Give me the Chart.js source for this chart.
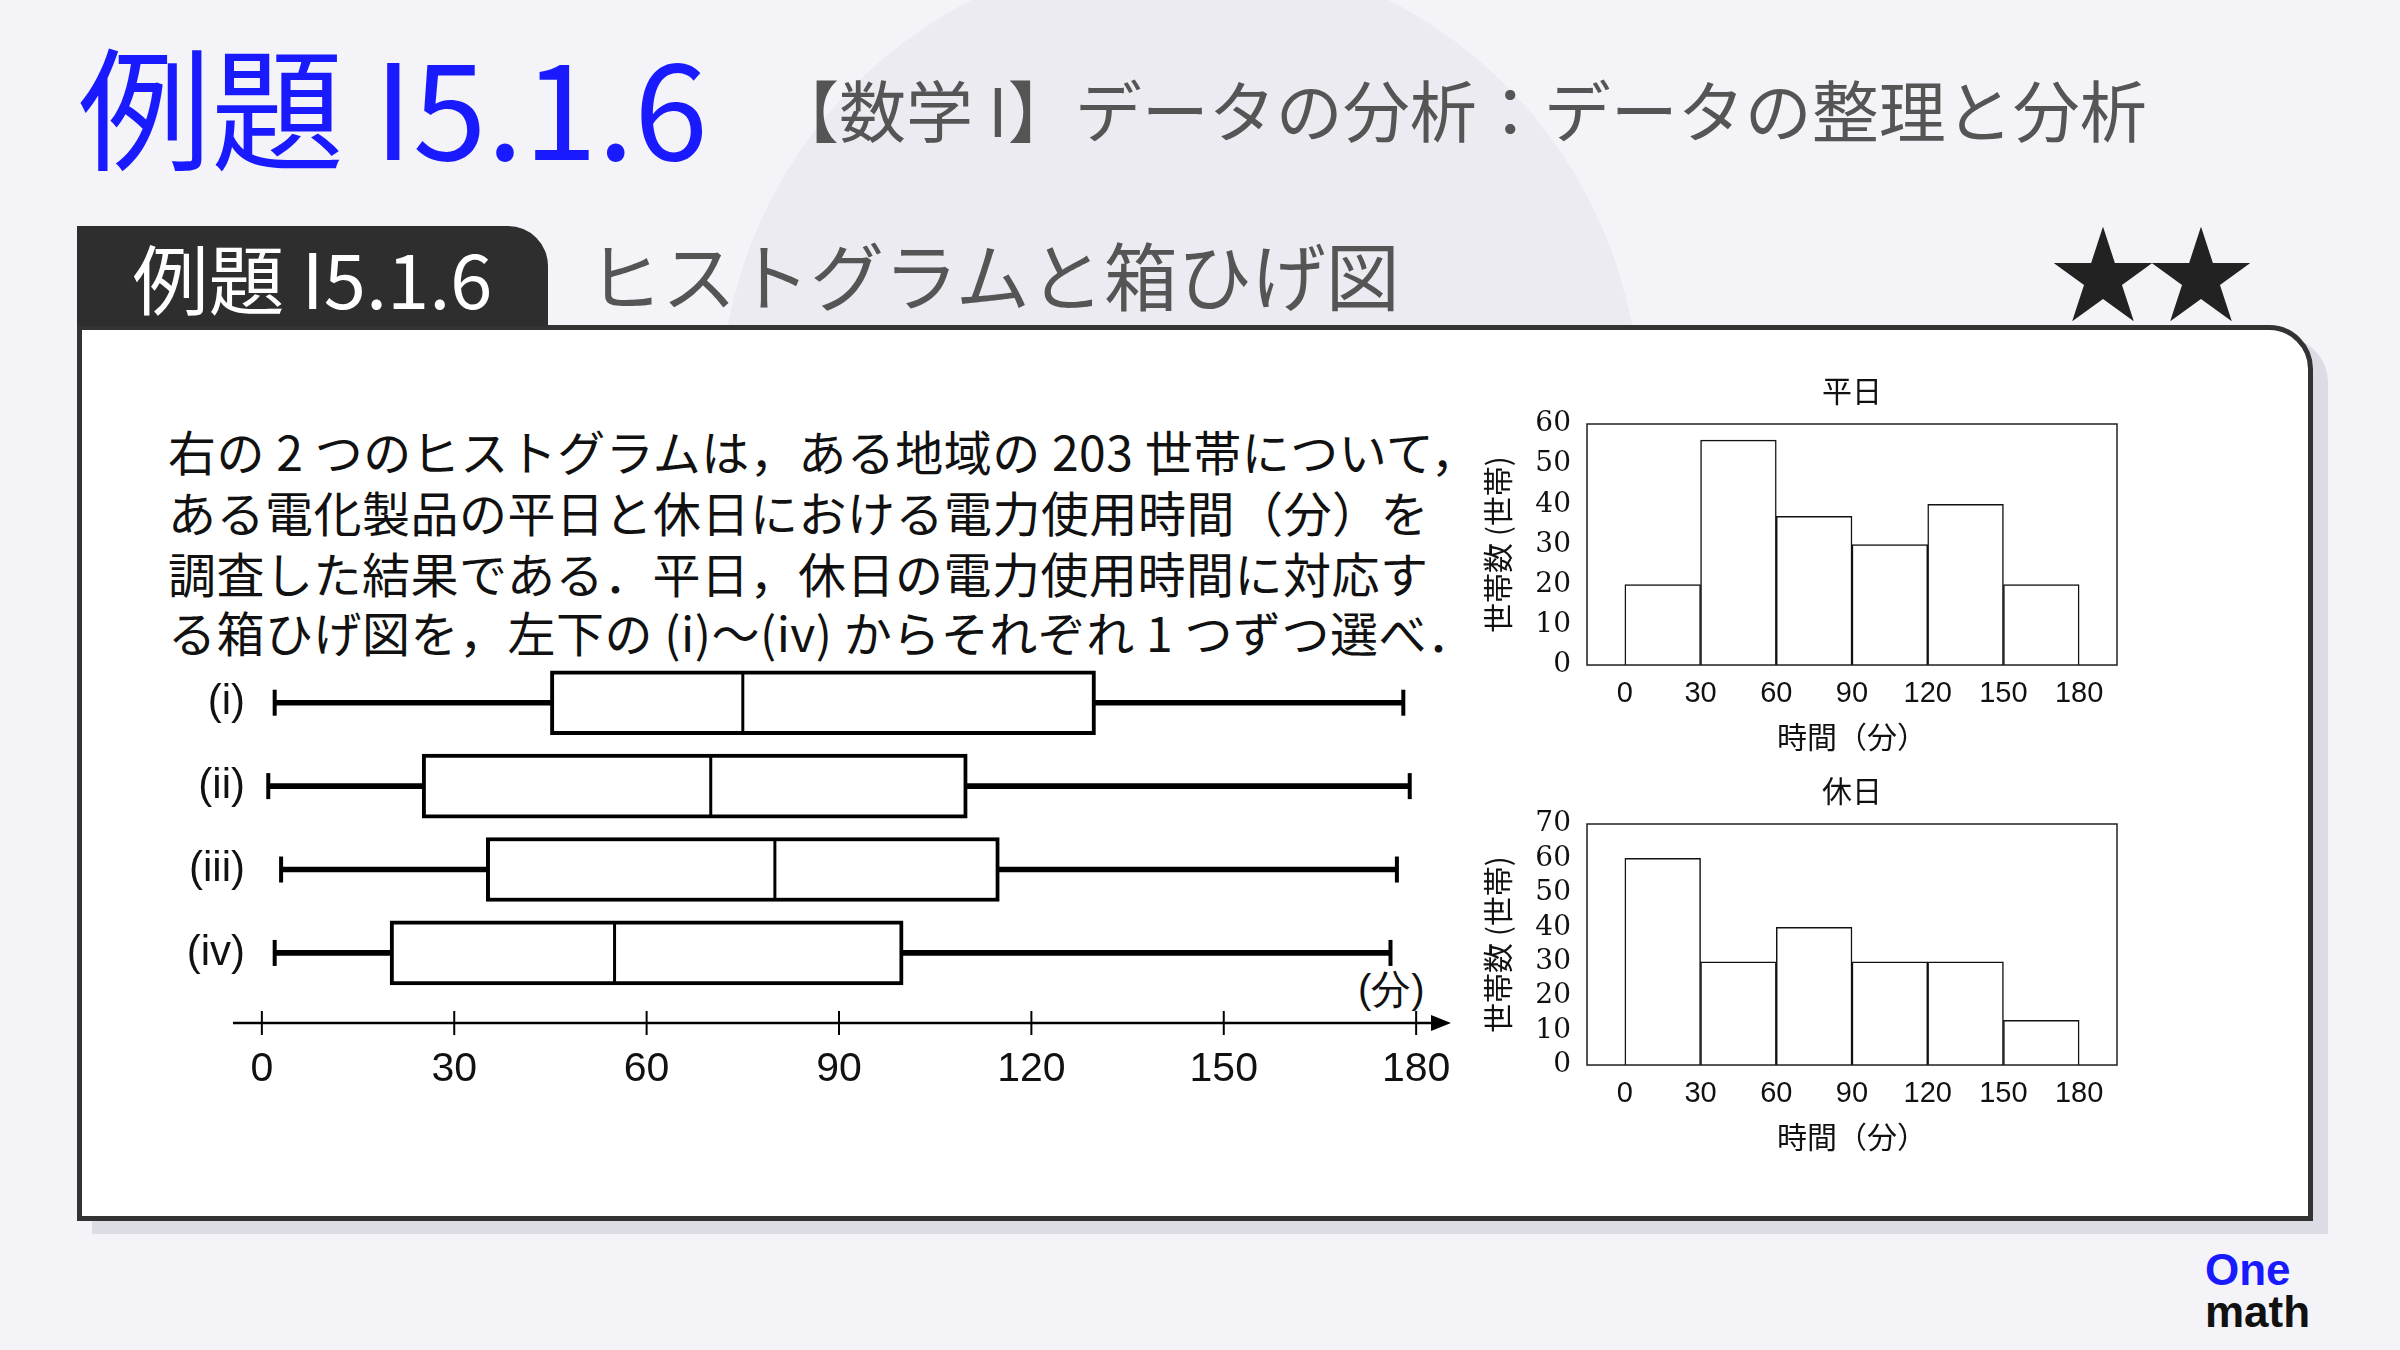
<!DOCTYPE html>
<html>
<head>
<meta charset="utf-8">
<title>例題 I5.1.6 ヒストグラムと箱ひげ図</title>
<script src="https://cdn.jsdelivr.net/npm/chart.js"></script>
<style>
  body { margin:0; width:2400px; height:1350px; background:#f4f4f8; position:relative; overflow:hidden;
         font-family:"Noto Sans CJK JP","Noto Sans",sans-serif; }
  .abs { position:absolute; white-space:nowrap; }
  #circle { left:720px; top:-50px; width:920px; height:920px; border-radius:50%; background:#ebebf1; }
  #title { left:78px; top:36px; font-size:133px; color:#1a1aff; line-height:1; }
  #sub { left:772px; top:74px; font-size:67px; color:#555; line-height:1; }
  #tab { left:77px; top:226px; width:471px; height:100px; background:#2e2e2e; border-radius:0 40px 0 0;
         color:#fff; font-size:76px; line-height:100px; text-align:center; }
  #head { left:588px; top:236px; font-size:74px; color:#555; line-height:1; }
  #stars { left:2050px; top:215px; font-size:106px; color:#222; line-height:1; letter-spacing:-8px; }
  #shadow { left:92px; top:338px; width:2236px; height:896px; background:#dcdce4; border-radius:0 44px 0 0; }
  #panel { left:77px; top:325px; width:2226px; height:886px; background:#fff; border:5px solid #333;
           border-radius:0 44px 0 0; }
  .para { left:168px; font-size:48px; color:#111; line-height:1; letter-spacing:0.5px; }
  #unit { left:1358px; top:962px; font-size:40px; color:#111; font-family:"Liberation Sans Narrow","Liberation Sans",sans-serif; }
  #logo1 { left:2205px; top:1248px; font-size:44px; color:#1a1aff; font-weight:bold; font-family:"Liberation Sans",sans-serif; line-height:1; }
  #logo2 { left:2205px; top:1290px; font-size:44px; color:#111; font-weight:bold; font-family:"Liberation Sans",sans-serif; line-height:1; }
  canvas { position:absolute; }
</style>
</head>
<body>
<div id="circle" class="abs"></div>
<div id="title" class="abs">例題 I5.1.6</div>
<div id="sub" class="abs">【数学 I】データの分析：データの整理と分析</div>
<div id="shadow" class="abs"></div>
<div id="panel" class="abs"></div>
<div id="tab" class="abs">例題 I5.1.6</div>
<div id="head" class="abs">ヒストグラムと箱ひげ図</div>
<div id="stars" class="abs">★★</div>
<div class="abs para" style="top:426px">右の 2 つのヒストグラムは，ある地域の 203 世帯について，</div>
<div class="abs para" style="top:487px">ある電化製品の平日と休日における電力使用時間（分）を</div>
<div class="abs para" style="top:548px">調査した結果である．平日，休日の電力使用時間に対応す</div>
<div class="abs para" style="top:607px">る箱ひげ図を，左下の (i)〜(iv) からそれぞれ 1 つずつ選べ．</div>
<div id="unit" class="abs">(分)</div>
<div id="logo1" class="abs">One</div>
<div id="logo2" class="abs">math</div>

<canvas id="box" width="1340" height="500" style="left:130px;top:600px"></canvas>
<canvas id="h1" width="660" height="395" style="left:1480px;top:360px"></canvas>
<canvas id="h2" width="660" height="395" style="left:1480px;top:760px"></canvas>

<script>
// Box plot data (minutes)
const boxLabels = ['(i)', '(ii)', '(iii)', '(iv)'];
const boxMin = [2, 1, 3, 2];
const boxQ1 = [45, 25, 35, 20];
const boxMed = [75, 70, 80, 55];
const boxQ3 = [130, 110, 115, 100];
const boxMax = [178, 179, 177, 176];
const axisTicks = [0, 30, 60, 90, 120, 150, 180];

// Histogram data
const binCenters = [15, 45, 75, 105, 135, 165];
const weekday = [20, 56, 37, 30, 40, 20];
const holiday = [60, 30, 40, 30, 30, 13];

const narrow = '"Liberation Sans Narrow","Liberation Sans",sans-serif';

const boxDecor = {
  id: 'boxDecor',
  afterDatasetsDraw(chart) {
    const { ctx, scales: { x, y }, chartArea } = chart;
    ctx.save();
    ctx.strokeStyle = '#000';
    ctx.lineCap = 'butt';
    boxLabels.forEach((lab, i) => {
      const cy = y.getPixelForValue(i + 1);
      ctx.lineWidth = 4;
      [boxMin[i], boxMax[i]].forEach(v => {
        const px = x.getPixelForValue(v);
        ctx.beginPath(); ctx.moveTo(px, cy - 13); ctx.lineTo(px, cy + 13); ctx.stroke();
      });
      ctx.lineWidth = 3;
      const pm = x.getPixelForValue(boxMed[i]);
      ctx.beginPath(); ctx.moveTo(pm, cy - 31); ctx.lineTo(pm, cy + 31); ctx.stroke();
      ctx.fillStyle = '#111';
      ctx.font = '42px ' + narrow;
      ctx.textAlign = 'right';
      ctx.textBaseline = 'middle';
      ctx.fillText(lab, chartArea.left + 12, cy);
    });
    // axis line, ticks, arrow
    const ay = chartArea.bottom;
    ctx.lineWidth = 2.5;
    ctx.beginPath(); ctx.moveTo(chartArea.left, ay); ctx.lineTo(chartArea.right - 4, ay); ctx.stroke();
    axisTicks.forEach(v => {
      const px = x.getPixelForValue(v);
      ctx.lineWidth = 2;
      ctx.beginPath(); ctx.moveTo(px, ay - 12); ctx.lineTo(px, ay + 12); ctx.stroke();
    });
    ctx.fillStyle = '#000';
    ctx.beginPath();
    ctx.moveTo(chartArea.right + 6, ay);
    ctx.lineTo(chartArea.right - 14, ay - 8);
    ctx.lineTo(chartArea.right - 14, ay + 8);
    ctx.closePath(); ctx.fill();
    ctx.restore();
  }
};

new Chart(document.getElementById('box'), {
  type: 'bar',
  data: {
    datasets: [
      {
        data: boxLabels.map((_, i) => ({ y: i + 1, x: [boxMin[i], boxMax[i]] })),
        backgroundColor: '#000', barThickness: 5, grouped: false, order: 2
      },
      {
        data: boxLabels.map((_, i) => ({ y: i + 1, x: [boxQ1[i], boxQ3[i]] })),
        backgroundColor: '#fff', borderColor: '#000', borderWidth: 4, borderSkipped: false,
        barThickness: 64, grouped: false, order: 1
      }
    ]
  },
  options: {
    indexAxis: 'y', responsive: false, animation: false,
    layout: { padding: { left: 103, right: 25, top: 61, bottom: 0 } },
    plugins: { legend: { display: false }, tooltip: { enabled: false } },
    scales: {
      x: {
        type: 'linear', min: -4.5, max: 184.5, offset: false,
        afterBuildTicks: s => { s.ticks = axisTicks.map(v => ({ value: v })); },
        afterFit: s => { s.height = 77; },
        grid: { display: false }, border: { display: false },
        ticks: { color: '#111', font: { size: 41, family: narrow }, padding: 14 }
      },
      y: {
        type: 'linear', min: 0.5, max: 4.84, reverse: true, display: false, offset: false
      }
    }
  },
  plugins: [boxDecor]
});

function histogram(id, title, values, ymax) {
  const frame = {
    id: 'frame',
    afterDraw(chart) {
      const { ctx, chartArea: a } = chart;
      ctx.save();
      ctx.strokeStyle = '#222'; ctx.lineWidth = 1.5;
      ctx.strokeRect(a.left, a.top, a.right - a.left, a.bottom - a.top);
      ctx.fillStyle = '#111';
      ctx.font = '30px "Noto Sans CJK JP"';
      ctx.textAlign = 'center'; ctx.textBaseline = 'bottom';
      ctx.fillText(title, (a.left + a.right) / 2, a.top - 18);
      ctx.restore();
    }
  };
  new Chart(document.getElementById(id), {
    type: 'bar',
    data: {
      datasets: [{
        data: binCenters.map((c, i) => ({ x: c, y: values[i] })),
        backgroundColor: '#fff', borderColor: '#111', borderWidth: 1.5,
        barPercentage: 1, categoryPercentage: 1
      }]
    },
    options: {
      responsive: false, animation: false,
      layout: { padding: { top: 64, right: 23, left: 0, bottom: 0 } },
      plugins: { legend: { display: false }, tooltip: { enabled: false } },
      scales: {
        x: {
          type: 'linear', min: -15, max: 195, offset: false,
          afterBuildTicks: s => { s.ticks = axisTicks.map(v => ({ value: v })); },
          afterFit: s => { s.height = 90; },
          grid: { display: false },
          ticks: { color: '#111', font: { size: 29, family: '"Liberation Sans"' }, padding: 4, autoSkip: false, maxRotation: 0 },
          title: { display: true, text: '時間（分）', color: '#111', font: { size: 30, family: '"Noto Sans CJK JP"' }, padding: 0 }
        },
        y: {
          min: 0, max: ymax,
          afterBuildTicks: s => { s.ticks = []; for (let v = 0; v <= ymax; v += 10) s.ticks.push({ value: v }); },
          afterFit: s => { s.width = 107; },
          grid: { display: false },
          ticks: { color: '#111', font: { size: 28, family: '"DejaVu Serif"' }, padding: 8, autoSkip: false },
          title: { display: true, text: '世帯数 (世帯)', color: '#111', font: { size: 30, family: '"Noto Sans CJK JP"' }, padding: 0 }
        }
      }
    },
    plugins: [frame]
  });
}
histogram('h1', '平日', weekday, 60);
histogram('h2', '休日', holiday, 70);
</script>
</body>
</html>
